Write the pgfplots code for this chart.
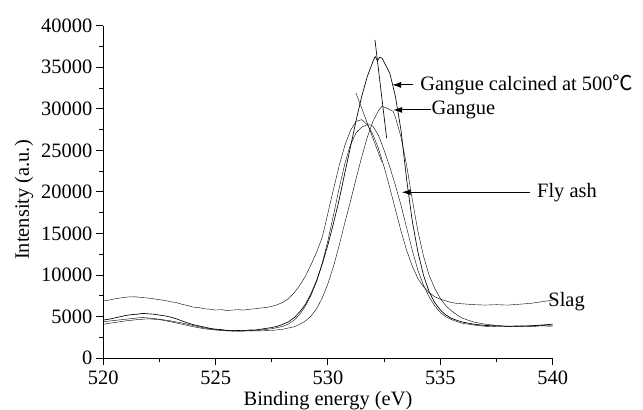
\documentclass[border=0pt]{standalone}
\usepackage{fontspec}
\setmainfont{Liberation Serif}
\newfontfamily\cjk{Noto Sans CJK SC}
\usepackage{pgfplots}
\pgfplotsset{compat=1.18}
\usetikzlibrary{arrows.meta}

% O 1s spectra of the four materials
\pgfplotstableread{
x y
520 6900
520.25 7000
520.5 7150
520.75 7250
521 7350
521.25 7400
521.5 7380
521.75 7300
522 7250
522.25 7150
522.5 7050
522.75 6950
523 6800
523.25 6700
523.5 6500
523.75 6350
524 6150
524.25 6100
524.5 5950
524.75 5900
525 5800
525.25 5850
525.5 5750
525.75 5800
526 5850
526.25 5800
526.5 5900
526.75 5950
527 6050
527.25 6100
527.5 6250
527.75 6450
528 6750
528.25 7200
528.5 7900
528.75 8800
529 9900
529.25 11300
529.5 12800
529.75 14600
530 17500
530.25 20400
530.5 23200
530.75 25600
531 27400
531.25 28500
531.5 28700
531.75 28100
532 26900
532.25 25200
532.5 23000
532.75 20500
533 17900
533.25 15300
533.5 13000
533.75 11100
534 9600
534.25 8600
534.5 7900
534.75 7400
535 7100
535.25 6900
535.5 6700
535.75 6600
536 6550
536.5 6450
537 6400
537.5 6450
538 6400
538.5 6500
539 6600
539.5 6800
539.75 6900
540 7000
}\slag

\pgfplotstableread{
x y
520 4600
520.25 4700
520.5 4850
520.75 5000
521 5150
521.25 5250
521.5 5300
521.75 5400
522 5350
522.25 5300
522.5 5200
522.75 5100
523 4950
523.25 4750
523.5 4500
523.75 4250
524 4050
524.25 3900
524.5 3750
524.75 3600
525 3500
525.25 3450
525.5 3350
525.75 3300
526 3350
526.25 3300
526.5 3400
526.75 3400
527 3500
527.25 3600
527.5 3700
527.75 3850
528 4100
528.25 4400
528.5 4900
528.75 5600
529 6500
529.25 7800
529.5 9400
529.75 11400
530 13700
530.25 16300
530.5 19100
530.75 22300
531 25400
531.25 28600
531.5 31500
531.75 33900
532 35700
532.1 36300
532.2 35800
532.3 36200
532.4 36100
532.5 35600
532.75 34300
533 31500
533.25 27400
533.5 21500
533.75 16500
534 12800
534.25 10000
534.5 8000
534.75 6700
535 5800
535.25 5200
535.5 4800
535.75 4550
536 4350
536.5 4100
537 3950
537.5 3900
538 3850
538.5 3900
539 3900
539.5 4000
540 4100
}\calcined

\pgfplotstableread{
x y
520 4100
520.5 4300
521 4500
521.5 4650
521.75 4700
522 4750
522.5 4650
523 4400
523.5 4100
524 3800
524.5 3550
525 3400
525.5 3300
526 3250
526.5 3300
527 3300
527.5 3350
528 3500
528.5 3800
528.75 4100
529 4500
529.25 5100
529.5 6000
529.75 7300
530 9000
530.25 11100
530.5 13600
530.75 16300
531 18900
531.25 21600
531.5 24200
531.75 26600
532 28500
532.25 29800
532.4 30300
532.6 30100
532.75 29900
532.9 29700
533 29000
533.25 26600
533.5 23200
533.75 19100
534 15300
534.25 12300
534.5 10000
534.75 8400
535 7200
535.25 6300
535.5 5700
535.75 5200
536 4800
536.5 4350
537 4100
537.5 3950
538 3850
538.5 3850
539 3900
539.5 3950
540 4000
}\gangue

\pgfplotstableread{
x y
520 4400
520.5 4550
521 4700
521.5 4850
521.75 4900
522 4850
522.5 4700
523 4500
523.5 4250
524 3950
524.5 3650
525 3450
525.5 3350
526 3300
526.5 3350
527 3400
527.5 3550
528 3850
528.25 4150
528.5 4600
528.75 5300
529 6300
529.25 7600
529.5 9300
529.75 11500
530 14200
530.25 17300
530.5 20500
530.75 23400
531 25700
531.25 27100
531.5 27800
531.75 28100
531.9 28050
532 27900
532.25 26800
532.5 25000
532.75 23000
533 20800
533.25 18400
533.5 15700
533.75 13000
534 10600
534.25 8800
534.5 7400
534.75 6300
535 5500
535.25 5000
535.5 4650
535.75 4400
536 4200
536.5 4000
537 3850
537.5 3800
538 3800
538.5 3850
539 3800
539.5 3900
540 3850
}\flyash

\begin{document}
\fontsize{20.5}{24}\selectfont
\begin{tikzpicture}
\path[use as bounding box] (-103.3bp,-51.7bp) rectangle (539.7bp,358.3bp);
\begin{axis}[
  at={(0,0)}, anchor=south west,
  scale only axis, width=449.4bp, height=332.6bp,
  xmin=520, xmax=540, ymin=0, ymax=40000,
  axis lines=left, axis line style={-, line width=1.3bp},
  xtick={520,525,...,540}, minor x tick num=1,
  ytick={0,5000,...,40000}, minor y tick num=1,
  scaled y ticks=false,
  /pgf/number format/set thousands separator={},
  /pgf/number format/assume math mode=true,
  tick align=outside, major tick length=7bp, minor tick length=4bp,
  every tick/.style={black, line width=1bp},
  tick label style={font=\fontsize{20.5}{24}\selectfont},
  yticklabel style={xshift=3bp},
  xticklabel style={yshift=1bp},
  label style={font=\fontsize{20.5}{24}\selectfont},
  xlabel={Binding energy (eV)},
  ylabel={Intensity (a.u.)},
  xlabel style={at={(axis description cs:0.5,-0.128)}, anchor=center},
  ylabel style={at={(axis description cs:-0.1765,0.476)}, anchor=center},
  clip=false,
  cycle list={{black, line width=0.65bp, no marks}},
]
\addplot table {\slag};
\addplot table {\calcined};
\addplot table {\gangue};
\addplot table {\flyash};
% peak guide lines
\addplot coordinates {(532.09,38300) (532.61,26470)};
\addplot coordinates {(531.25,31880) (532.39,23650)};
% annotations
\draw[-{Latex[length=9bp,width=6bp]}, line width=1bp] (axis cs:533.8,32880) -- (axis cs:532.85,32880);
\node[anchor=west, inner sep=0pt] at (axis cs:534.1,32880) {Gangue calcined at 500{\cjk ℃}};
\draw[-{Latex[length=9bp,width=6bp]}, line width=1bp] (axis cs:534.6,29870) -- (axis cs:532.9,29870);
\node[anchor=west, inner sep=0pt] at (axis cs:534.6,29870) {Gangue};
\draw[-{Latex[length=9bp,width=6bp]}, line width=1bp] (axis cs:539.0,19970) -- (axis cs:533.28,19970);
\node[anchor=west, inner sep=0pt] at (axis cs:539.3,19970) {Fly ash};
\node[anchor=west, inner sep=0pt] at (axis cs:539.8,6780) {Slag};
\end{axis}
\end{tikzpicture}
\end{document}
